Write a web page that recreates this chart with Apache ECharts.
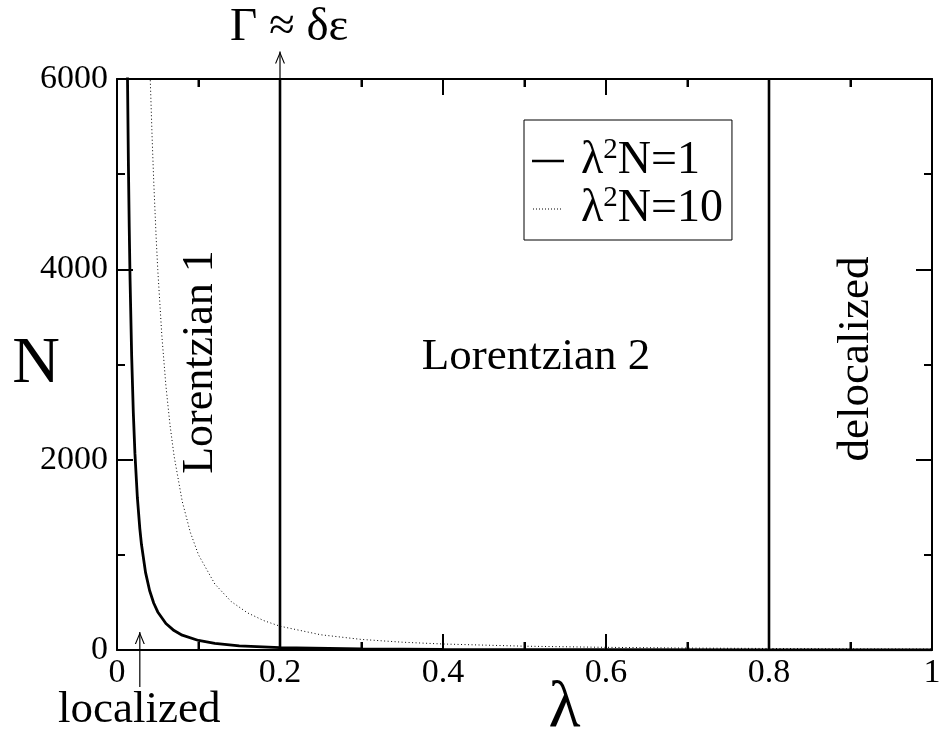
<!DOCTYPE html>
<html>
<head>
<meta charset="utf-8">
<script src="https://cdn.jsdelivr.net/npm/echarts@6/dist/echarts.min.js"></script>
<style>
  html, body { margin: 0; padding: 0; background: #fff; }
  #chart { width: 939px; height: 746px; }
</style>
</head>
<body>
<div id="chart"></div>
<script>
// lambda^2 N = 1
const lam1 = [0.012, 0.0129, 0.014, 0.015, 0.016, 0.018, 0.02, 0.022, 0.025, 0.028, 0.03, 0.035, 0.04, 0.045, 0.05, 0.06, 0.07, 0.08, 0.1, 0.12, 0.15, 0.2, 0.3, 0.4, 0.5, 0.6, 0.8, 1.0];
const n1 = [6944, 6000, 5102, 4444, 3906, 3086, 2500, 2066, 1600, 1276, 1111, 816, 625, 494, 400, 278, 204, 156, 100, 69, 44, 25, 11, 6, 4, 3, 2, 1];

// lambda^2 N = 10 (dotted curve)
const lam10 = [0.039, 0.0408, 0.043, 0.045, 0.048, 0.05, 0.055, 0.06, 0.065, 0.07, 0.08, 0.09, 0.1, 0.12, 0.14, 0.16, 0.18, 0.2, 0.25, 0.3, 0.35, 0.4, 0.5, 0.6, 0.7, 0.8, 0.9, 1.0];
const n10 = [6575, 6000, 5408, 4938, 4340, 4000, 3306, 2778, 2367, 2041, 1563, 1235, 1000, 694, 510, 391, 309, 250, 160, 111, 82, 63, 40, 28, 20, 16, 12, 10];

// regime borders
const borderLam = [0.2, 0.8];
const nRange = [0, 6000];

// annotation arrows: [lambda, from N, to N]
const gammaArrow = [0.2, 6000, 6290];
const localArrow = [0.028, -390, 190];

const xTicks = { min: 0, max: 1, step: 0.2 };
const yTicks = { min: 0, max: 6000, step: 2000 };
const xMajorTicks = [0, 0.2, 0.4, 0.6, 0.8, 1];
const xMinorTicks = [0.1, 0.3, 0.5, 0.7, 0.9];

const serif = "'Liberation Serif', 'Times New Roman', serif";
const arrowHead = 'path://M0,11 L5,0 L10,11 L8.8,11 L5,2.6 L1.2,11 Z';
// legend keys drawn inside a 32x14 box (zero-area corners keep the box)
const keySolid = 'path://M0,0 L0,0.01 Z M0,5.8 L32,5.8 L32,8.2 L0,8.2 Z M32,14 L32,13.99 Z';
const keyDotted = 'path://M0,0 L0,0.01 Z M1,6.5 h1 v1 h-1 Z M4,6.5 h1 v1 h-1 Z M7,6.5 h1 v1 h-1 Z M10,6.5 h1 v1 h-1 Z M13,6.5 h1 v1 h-1 Z M16,6.5 h1 v1 h-1 Z M19,6.5 h1 v1 h-1 Z M22,6.5 h1 v1 h-1 Z M25,6.5 h1 v1 h-1 Z M28,6.5 h1 v1 h-1 Z M32,14 L32,13.99 Z';

const zip = (xs, ys) => xs.map((x, i) => [x, ys[i]]);

const arrowData = (a) => [
  { value: [a[0], a[1]], symbol: 'none' },
  { value: [a[0], a[2]], symbol: arrowHead, symbolSize: [10, 12], symbolOffset: [0, 6] }
];

const chart = echarts.init(document.getElementById('chart'));

const axisCommon = {
  type: 'value',
  axisLine: { show: true, onZero: false, lineStyle: { color: '#000', width: 2 } },
  axisTick: { show: true, inside: true, length: 16, lineStyle: { color: '#000', width: 2 } },
  minorTick: { show: true, splitNumber: 2, length: 8, lineStyle: { color: '#000', width: 2 } },
  splitLine: { show: false },
  minorSplitLine: { show: false }
};

// inward ticks on the bottom and top frame, placed through the x scale
const xTickItem = (params, api) => {
  const v = api.value(0);
  const len = api.value(1) ? 16 : 8;
  const b = api.coord([v, yTicks.min]);
  const t = api.coord([v, yTicks.max]);
  const st = { stroke: '#000', lineWidth: 2 };
  return {
    type: 'group',
    children: [
      { type: 'line', shape: { x1: b[0], y1: b[1], x2: b[0], y2: b[1] - len }, style: st },
      { type: 'line', shape: { x1: t[0], y1: t[1], x2: t[0], y2: t[1] + len }, style: st }
    ]
  };
};

chart.setOption({
  animation: false,
  backgroundColor: '#fff',
  grid: { left: 117, right: 7, top: 79, bottom: 96, containLabel: false, outerBoundsMode: 'none' },
  xAxis: [
    {
      ...axisCommon,
      position: 'bottom',
      min: xTicks.min, max: xTicks.max, interval: xTicks.step,
      axisLabel: { color: '#000', fontFamily: serif, fontSize: 34, margin: 6 },
      name: 'λ',
      nameLocation: 'middle',
      nameGap: 26,
      nameMoveOverlap: false,
      nameTextStyle: { color: '#000', fontFamily: serif, fontSize: 66, verticalAlign: 'top', padding: [0, 0, 0, 80] }
    },
    {
      ...axisCommon,
      position: 'top',
      min: xTicks.min, max: xTicks.max, interval: xTicks.step,
      axisLabel: { show: false }
    }
  ],
  yAxis: [
    {
      ...axisCommon,
      position: 'left',
      min: yTicks.min, max: yTicks.max, interval: yTicks.step,
      axisLabel: { color: '#000', fontFamily: serif, fontSize: 34, margin: 9, formatter: (v) => String(v) },
      name: 'N',
      nameLocation: 'middle',
      nameRotate: 0,
      nameGap: 57,
      nameMoveOverlap: false,
      nameTextStyle: { color: '#000', fontFamily: serif, fontSize: 66 }
    },
    {
      ...axisCommon,
      position: 'right',
      min: yTicks.min, max: yTicks.max, interval: yTicks.step,
      axisLabel: { show: false }
    }
  ],
  legend: {
    orient: 'vertical',
    left: 524,
    top: 120,
    data: [
      { name: 'c1', icon: keySolid },
      { name: 'c10', icon: keyDotted }
    ],
    borderColor: '#000',
    borderWidth: 1,
    padding: [16, 9, 8, 8],
    itemGap: 0,
    itemWidth: 32,
    itemHeight: 14,
    formatter: (name) => name === 'c1'
      ? '{l|λ}{s|2}{l|N=1}'
      : '{l|λ}{s|2}{l|N=10}',
    textStyle: {
      color: '#000',
      fontFamily: serif,
      padding: [0, 0, 0, 12],
      rich: {
        l: { fontFamily: serif, fontSize: 46, lineHeight: 50, color: '#000' },
        s: { fontFamily: serif, fontSize: 29, lineHeight: 30, verticalAlign: 'top', color: '#000' }
      }
    }
  },
  series: [
    {
      name: 'c1',
      type: 'line',
      symbol: 'none',
      data: zip(lam1, n1),
      lineStyle: { color: '#000', width: 2.8 },
      itemStyle: { color: '#000' }
    },
    {
      name: 'c10',
      type: 'line',
      symbol: 'none',
      data: zip(lam10, n10),
      lineStyle: { color: '#000', width: 1, type: [1, 2.5] },
      itemStyle: { color: '#000' }
    },
    ...borderLam.map((l) => ({
      name: 'border' + l,
      type: 'line',
      symbol: 'none',
      data: [[l, nRange[0]], [l, nRange[1]]],
      lineStyle: { color: '#000', width: 2.6 }
    })),
    {
      name: 'gammaArrow',
      type: 'line',
      clip: false,
      data: arrowData(gammaArrow),
      lineStyle: { color: '#000', width: 1.2 },
      itemStyle: { color: '#000' }
    },
    {
      name: 'localArrow',
      type: 'line',
      clip: false,
      data: arrowData(localArrow),
      lineStyle: { color: '#000', width: 1.2 },
      itemStyle: { color: '#000' }
    },
    {
      name: 'xTicks',
      type: 'custom',
      clip: false,
      silent: true,
      renderItem: xTickItem,
      data: xMajorTicks.map((v) => [v, 1]).concat(xMinorTicks.map((v) => [v, 0]))
    }
  ],
  graphic: [
    {
      type: 'text', left: 230, top: 4,
      style: { text: 'Γ ≈ δε', fontFamily: serif, fontSize: 47, fill: '#000' }
    },
    {
      type: 'text', left: 58, top: 688,
      style: { text: 'localized', fontFamily: serif, fontSize: 45, fill: '#000' }
    },
    {
      type: 'text', x: 200, y: 362, rotation: Math.PI / 2,
      style: { text: 'Lorentzian 1', fontFamily: serif, fontSize: 44, fill: '#000', align: 'center', verticalAlign: 'middle' }
    },
    {
      type: 'text', x: 536, y: 357,
      style: { text: 'Lorentzian 2', fontFamily: serif, fontSize: 45, fill: '#000', align: 'center', verticalAlign: 'middle' }
    },
    {
      type: 'text', x: 856, y: 359, rotation: Math.PI / 2,
      style: { text: 'delocalized', fontFamily: serif, fontSize: 45, fill: '#000', align: 'center', verticalAlign: 'middle' }
    }
  ]
});
</script>
</body>
</html>
